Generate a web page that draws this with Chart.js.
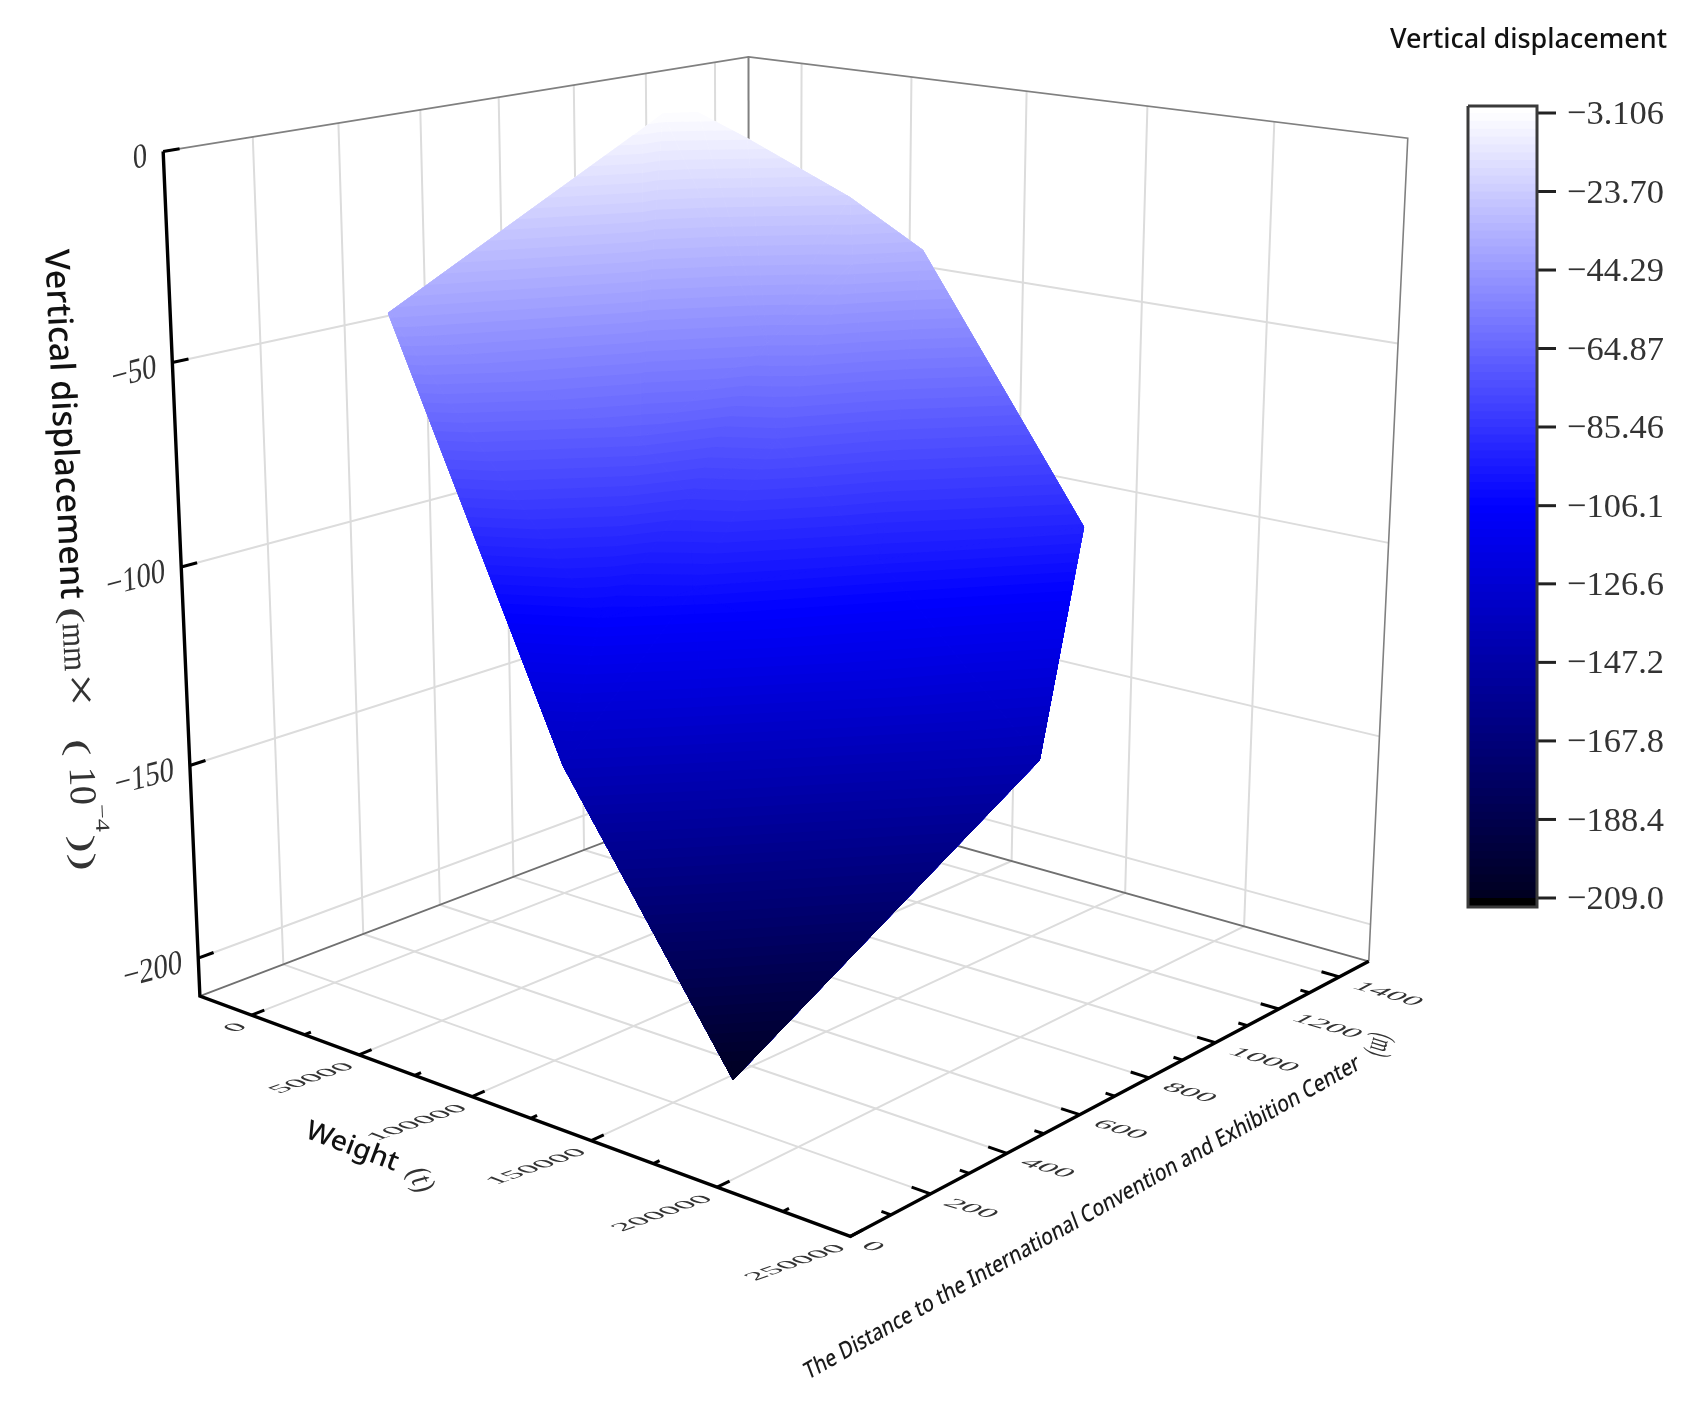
<!DOCTYPE html>
<html>
<head>
<meta charset="utf-8">
<style>
  html, body { margin: 0; background: #fff; }
  canvas { display: block; filter: blur(0.5px); }
</style>
<script src="https://cdn.jsdelivr.net/npm/chart.js@4"></script>
</head>
<body>
<canvas id="myChart" width="1703" height="1416"></canvas>
<script>
// surface vertices
const vertexWeight = [12000, 22700, 21000, 28900, 45600, 80600, 106500, 185500, 197200, 154600, 98000, 94600, 88700, 96000, 81400, 108800, 146700, 95800, 113100];
const vertexDistance = [314, 906, 970, 1018, 1050, 1113, 1149, 1064, 861, 323, 243, 1030, 831, 580, 541, 729, 760, 351, 482];
const vertexDisplacement = [-41.2, -5.8, -3.2, -3.106, -8.9, -22, -33.7, -92.2, -142.3, -209, -138.3, -35.7, -52, -83, -69.8, -71.3, -96.9, -106.5, -100.7];
const triangles = [[0,1,14],[1,2,14],[2,3,12],[2,12,14],[3,4,12],[4,5,12],[5,11,12],[5,6,11],[6,16,11],[11,16,15],[11,15,12],[12,15,13],[12,13,14],[0,14,17],[0,17,10],[14,13,17],[13,18,17],[17,18,10],[10,18,9],[13,15,18],[15,16,18],[6,7,16],[16,7,8],[16,8,18],[18,8,9]];

const weightTicks = [0, 50000, 100000, 150000, 200000, 250000];
const weightMinor = [25000, 75000, 125000, 175000, 225000];
const distanceTicks = [0, 200, 400, 600, 800, 1000, 1200, 1400];
const distanceMinor = [100, 300, 500, 700, 900, 1100, 1300];
const zTicks = [0, -50, -100, -150, -200];
const barTicks = [-3.106, -23.70, -44.29, -64.87, -85.46, -106.1, -126.6, -147.2, -167.8, -188.4, -209.0];

const weightRange = [-25000, 250000];
const distanceRange = [0, 1500];
const zRange = [-210, 0];
const barCount = 100;

// camera fitted to the box corners in the picture
const cam = [533.776, 672.257, -46.8012, 199.890, 70.7371, -79.3916, -853.975, 996.042, -0.137215, 0.164355, -0.0616923, 1];

function project(w, d, z) {
    const u = (w - weightRange[0]) / (weightRange[1] - weightRange[0]);
    const v = (d - distanceRange[0]) / (distanceRange[1] - distanceRange[0]);
    const t = (z - zRange[0]) / (zRange[1] - zRange[0]);
    const s = cam[8] * u + cam[9] * v + cam[10] * t + cam[11];
    return {
        x: (cam[0] * u + cam[1] * v + cam[2] * t + cam[3]) / s,
        y: (cam[4] * u + cam[5] * v + cam[6] * t + cam[7]) / s
    };
}

function colourAt(z) {
    const mid = -106.1, top = -3.106, bottom = -209;
    if (z >= mid) {
        const c = Math.round(255 * Math.min(1, (z - mid) / (top - mid)));
        return `rgb(${c},${c},255)`;
    }
    const b = Math.round(255 - (255 - 32) * Math.min(1, (mid - z) / (mid - bottom)));
    return `rgb(0,0,${b})`;
}

function lineSet(points, color, width, order) {
    return { data: points, borderColor: color, borderWidth: width, showLine: true, pointRadius: 0, fill: false, order: order };
}

function polySet(points, color, order) {
    return { data: points, borderColor: 'rgba(0,0,0,0)', backgroundColor: color, borderWidth: 1, showLine: true, pointRadius: 0, fill: 'shape', order: order };
}

// part of one triangle at or below a displacement level
function clipBelow(poly, level) {
    const out = [];
    poly.forEach((a, i) => {
        const b = poly[(i + 1) % poly.length];
        if (a[2] <= level) out.push(a);
        if ((a[2] <= level) !== (b[2] <= level)) {
            const k = (level - a[2]) / (b[2] - a[2]);
            out.push([a[0] + k * (b[0] - a[0]), a[1] + k * (b[1] - a[1]), level]);
        }
    });
    return out;
}

const datasets = [];

// gridlines on the two walls and the floor
const gridColor = '#dcdcdc';
const wMin = weightRange[0], wMax = weightRange[1], dMax = distanceRange[1], zLow = zRange[0], zTop = zRange[1];
zTicks.slice(1).forEach(z => {
    datasets.push(lineSet([project(wMin, 0, z), project(wMin, dMax, z), project(wMax, dMax, z)], gridColor, 2, 10));
});
distanceTicks.slice(1).forEach(d => {
    datasets.push(lineSet([project(wMin, d, zTop), project(wMin, d, zLow), project(wMax, d, zLow)], gridColor, 2, 10));
});
weightTicks.slice(0, -1).forEach(w => {
    datasets.push(lineSet([project(w, dMax, zTop), project(w, dMax, zLow), project(w, 0, zLow)], gridColor, 2, 10));
});

// box frame
const frameColor = '#808080';
datasets.push(lineSet([project(wMin, 0, zTop), project(wMin, dMax, zTop), project(wMax, dMax, zTop), project(wMax, dMax, zLow)], frameColor, 1.6, 8));
datasets.push(lineSet([project(wMin, dMax, zTop), project(wMin, dMax, zLow)], frameColor, 2, 8));
datasets.push(lineSet([project(wMin, 0, zLow), project(wMin, dMax, zLow), project(wMax, dMax, zLow)], '#707070', 1.8, 8));

// surface: each level is painted over the lighter one before it, so no seams show.
// chart.js draws the last dataset first, so the darkest level goes in first.
const zStep = (barTicks[0] - barTicks[10]) / barCount;
for (let b = 0; b < barCount; b++) {
    const low = barTicks[10] + b * zStep;
    const high = low + zStep;
    const points = [];
    triangles.forEach(tri => {
        const poly = tri.map(i => [vertexWeight[i], vertexDistance[i], vertexDisplacement[i]]);
        const part = clipBelow(poly, b === barCount - 1 ? 0 : high);
        if (part.length > 2) {
            part.forEach(p => points.push(project(p[0], p[1], p[2])));
            points.push({ x: NaN, y: NaN });
        }
    });
    datasets.push(polySet(points, colourAt(low + zStep / 2), 4));
}

// thick axes and their ticks
const axisColor = '#000';
datasets.push(lineSet([project(wMin, 0, zTop), project(wMin, 0, zLow), project(wMax, 0, zLow), project(wMax, dMax, zLow)], axisColor, 3.4, 1));
zTicks.forEach(z => datasets.push(lineSet([project(wMin, 0, z), project(wMin, 36, z)], axisColor, 3, 1)));
weightTicks.forEach(w => datasets.push(lineSet([project(w, 0, zLow), project(w, 30, zLow)], axisColor, 3, 1)));
weightMinor.forEach(w => datasets.push(lineSet([project(w, 0, zLow), project(w, 15, zLow)], axisColor, 3, 1)));
distanceTicks.slice(1).forEach(d => datasets.push(lineSet([project(wMax, d, zLow), project(wMax - 7000, d, zLow)], axisColor, 3, 1)));
distanceMinor.forEach(d => datasets.push(lineSet([project(wMax, d, zLow), project(wMax - 3500, d, zLow)], axisColor, 3, 1)));

// colour bar, laid out in the same page scale
const barLeft = 1468, barRight = 1537, barBoxTop = 106, barBoxBottom = 907, barTopY = 113, barBottomY = 898;
const barY = z => barTopY + (barTicks[0] - z) / (barTicks[0] - barTicks[10]) * (barBottomY - barTopY);
const rect = (y0, y1) => [{ x: barLeft, y: y0 }, { x: barRight, y: y0 }, { x: barRight, y: y1 }, { x: barLeft, y: y1 }];
datasets.push(polySet(rect(barBottomY, barBoxBottom), '#000', 3));
for (let b = 0; b < barCount; b++) {
    const low = barTicks[10] + b * zStep;
    datasets.push(polySet(rect(barY(low + zStep), barBottomY), colourAt(low + zStep / 2), 3));
}
datasets.push(polySet(rect(barBoxTop, barTopY), '#fff', 3));
const box = rect(barBoxTop, barBoxBottom);
datasets.push(lineSet([...box, box[0]], '#3a3a3a', 3, 1));
barTicks.forEach(z => datasets.push(lineSet([{ x: barRight, y: barY(z) }, { x: barRight + 19, y: barY(z) }], '#222', 3, 1)));

const serif = '"Liberation Serif"';
const sans = '"Noto Sans"';

// e1 and e2 are where the text's x and y units land on the page
function drawText(ctx, text, x, y, e1, e2, font, color, align, base, fit) {
    ctx.save();
    ctx.font = font;
    let k = 1;
    if (fit) k = fit / ctx.measureText(text).width;
    ctx.transform(e1[0] * k, e1[1] * k, e2[0], e2[1], x, y);
    ctx.fillStyle = color;
    ctx.textAlign = align;
    ctx.textBaseline = base;
    ctx.fillText(text, 0, 0);
    ctx.restore();
}

const textPlugin = {
    id: 'textPlugin',
    afterDraw(chart) {
        const ctx = chart.ctx;
        const sx = chart.scales.x, sy = chart.scales.y;
        const at = p => [sx.getPixelForValue(p.x), sy.getPixelForValue(p.y)];
        const tickFont = '30px ' + serif, tickColor = '#333';

        zTicks.forEach(z => {
            const [x, y] = at(project(wMin, 0, z));
            drawText(ctx, String(z).replace('-', '−'), x - 16, y + 5, [0.95, -0.25], [0.04, 1.15], tickFont, tickColor, 'right', 'middle');
        });
        weightTicks.forEach(w => {
            const [x, y] = at(project(w, 0, zLow));
            drawText(ctx, String(w), x - 8, y + 10, [1.03, -0.36], [0.68, 0.26], tickFont, tickColor, 'right', 'middle');
        });
        distanceTicks.forEach(d => {
            const [x, y] = at(project(wMax, d, zLow));
            const dx = d === 0 ? 14 : 16;
            drawText(ctx, String(d), x + dx, y + 8, [1.07, 0.31], [-0.62, 0.33], tickFont, tickColor, 'left', 'middle');
        });

        // colour bar
        drawText(ctx, 'Vertical displacement', 1390, 48, [1, 0], [0, 1], '500 27px ' + sans, '#111', 'left', 'alphabetic', 277);
        barTicks.forEach((z, i) => {
            const label = '−' + Math.abs(z).toFixed(i === 0 ? 3 : (Math.abs(z) >= 100 ? 1 : 2));
            drawText(ctx, label, 1664, barY(z) + 2, [1, 0], [0, 1.12], '31px ' + serif, tickColor, 'right', 'middle', 97);
        });

        // vertical axis title, reading downward
        const cosA = Math.cos(87.3 * Math.PI / 180), sinA = Math.sin(87.3 * Math.PI / 180);
        const e1 = [cosA, sinA], e2 = [-sinA, cosA];
        const along = (s, up) => [45 + s * cosA + up * sinA, 250 + s * sinA - up * cosA];
        const put = (text, s, font, fit, up, color) => {
            const [x, y] = along(s, up || 0);
            drawText(ctx, text, x, y, e1, e2, font, color || '#333', 'left', 'alphabetic', fit);
        };
        put('Vertical displacement', 0, '500 34px ' + sans, 350, 0, '#111');
        put('(', 358, '32px ' + serif, 17);
        put('mm', 374, '34px ' + serif, 48);
        put('×', 424, '46px ' + serif, 34);
        put('(', 490, '32px ' + serif, 17);
        put('10', 518, '38px ' + serif, 38);
        put('−4', 556, '20px ' + serif, 28, 24);
        put('))', 586, '32px ' + serif, 36);

        // weight title
        const w0 = Math.cos(20.5 * Math.PI / 180), w1 = Math.sin(20.5 * Math.PI / 180);
        drawText(ctx, 'Weight', 352, 1147, [w0, w1], [-w1 * 0.9, w0 * 0.9], '500 30px ' + sans, '#111', 'center', 'middle', 97);
        drawText(ctx, '(t)', 420, 1180, [0.36, 0.81], [-0.95, 0.42], 'italic 30px ' + serif, '#333', 'center', 'middle');

        // distance title
        drawText(ctx, 'The Distance to the International Convention and Exhibition Center', 808, 1380, [0.87, -0.49], [0.36, 0.95], '500 23px ' + sans, '#1a1a1a', 'left', 'alphabetic', 636);
        drawText(ctx, '(m)', 1380, 1045, [-0.17, 0.58], [-1.2, -0.36], '26px ' + serif, '#333', 'center', 'middle');
    }
};

document.addEventListener('DOMContentLoaded', () => {
    new Chart(document.getElementById('myChart').getContext('2d'), {
        type: 'scatter',
        data: { datasets: datasets },
        options: {
            responsive: false,
            animation: false,
            layout: { padding: 0 },
            plugins: { legend: { display: false }, tooltip: { enabled: false }, title: { display: false } },
            events: [],
            scales: {
                x: { type: 'linear', min: 0, max: 1703, display: false },
                y: { type: 'linear', min: 0, max: 1416, reverse: true, display: false }
            }
        },
        plugins: [textPlugin]
    });
});
</script>
</body>
</html>
